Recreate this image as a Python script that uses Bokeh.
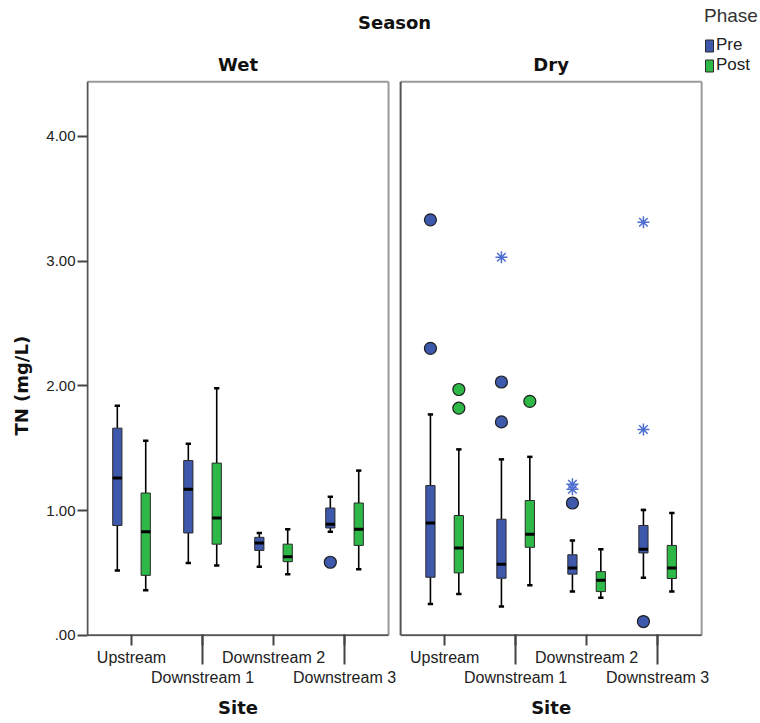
from bokeh.plotting import figure
from bokeh.models import (Range1d, FixedTicker, ColumnDataSource, Legend, LegendItem, LinearAxis, Label)
from bokeh.embed import file_html
from bokeh.resources import INLINE

# ---------------- data ----------------
sites = ["Upstream", "Downstream 1", "Downstream 2", "Downstream 3"]
seasons = ["Wet", "Dry"]
phases = ["Pre", "Post"]

# Wet season, Pre
wet_pre_low = [0.52, 0.58, 0.55, 0.83]
wet_pre_q1 = [0.88, 0.82, 0.68, 0.86]
wet_pre_med = [1.26, 1.17, 0.74, 0.89]
wet_pre_q3 = [1.66, 1.40, 0.785, 1.02]
wet_pre_high = [1.84, 1.535, 0.82, 1.11]
# Wet season, Post
wet_post_low = [0.36, 0.56, 0.49, 0.53]
wet_post_q1 = [0.48, 0.73, 0.59, 0.72]
wet_post_med = [0.83, 0.94, 0.63, 0.85]
wet_post_q3 = [1.14, 1.38, 0.73, 1.06]
wet_post_high = [1.56, 1.98, 0.85, 1.32]
# Dry season, Pre
dry_pre_low = [0.25, 0.23, 0.35, 0.46]
dry_pre_q1 = [0.465, 0.457, 0.49, 0.66]
dry_pre_med = [0.90, 0.57, 0.54, 0.69]
dry_pre_q3 = [1.20, 0.93, 0.645, 0.88]
dry_pre_high = [1.77, 1.41, 0.76, 1.005]
# Dry season, Post
dry_post_low = [0.33, 0.40, 0.30, 0.35]
dry_post_q1 = [0.50, 0.705, 0.35, 0.455]
dry_post_med = [0.70, 0.81, 0.44, 0.54]
dry_post_q3 = [0.96, 1.08, 0.51, 0.72]
dry_post_high = [1.49, 1.43, 0.69, 0.98]

# outliers (circles)
outlier_season = ["Wet", "Dry", "Dry", "Dry", "Dry", "Dry", "Dry", "Dry", "Dry", "Dry"]
outlier_site = ["Downstream 3", "Upstream", "Upstream", "Downstream 1", "Downstream 1",
                "Downstream 2", "Downstream 3", "Upstream", "Upstream", "Downstream 1"]
outlier_phase = ["Pre", "Pre", "Pre", "Pre", "Pre", "Pre", "Pre", "Post", "Post", "Post"]
outlier_value = [0.585, 3.33, 2.30, 2.03, 1.71, 1.06, 0.11, 1.97, 1.82, 1.875]

# extreme values (stars)
extreme_season = ["Dry", "Dry", "Dry", "Dry", "Dry"]
extreme_site = ["Downstream 1", "Downstream 2", "Downstream 2", "Downstream 3", "Downstream 3"]
extreme_phase = ["Pre", "Pre", "Pre", "Pre", "Pre"]
extreme_value = [3.03, 1.21, 1.17, 3.31, 1.65]

y_ticks = [0, 1, 2, 3, 4]
y_tick_labels = [".00", "1.00", "2.00", "3.00", "4.00"]
y_title = "TN (mg/L)"
x_title = "Site"
panel_title = "Season"
legend_title = "Phase"

# ---------------- layout constants ----------------
CAT_PAD = 0.62
GAP = 0.17
SEASON_OFF = {"Wet": 0.0, "Dry": 3 + 2 * CAT_PAD + GAP}
DODGE = {"Pre": -0.2, "Post": 0.2}
BOX_W = 0.13
CAP_W = 0.075
Y_TOP = 4.437
KX = 71.0      # px per category unit
KY = 124.75    # px per mg/L
FRAME_W = 674
FRAME_H = 636
COLORS = {"Pre": "#3E58AC", "Post": "#2EB848"}
STAR_COLOR = "#4F6FD0"
BOLD = "DejaVu Sans"
REG = "Liberation Sans"

stats = {
    ("Wet", "Pre"): (wet_pre_low, wet_pre_q1, wet_pre_med, wet_pre_q3, wet_pre_high),
    ("Wet", "Post"): (wet_post_low, wet_post_q1, wet_post_med, wet_post_q3, wet_post_high),
    ("Dry", "Pre"): (dry_pre_low, dry_pre_q1, dry_pre_med, dry_pre_q3, dry_pre_high),
    ("Dry", "Post"): (dry_post_low, dry_post_q1, dry_post_med, dry_post_q3, dry_post_high),
}

x_start = -CAT_PAD - 1.0 / KX
x_end = x_start + FRAME_W / KX
y_start = -0.01
y_end = y_start + FRAME_H / KY

p = figure(width=760, height=723, output_backend="svg", toolbar_location=None,
           x_range=Range1d(x_start, x_end), y_range=Range1d(y_start, y_end),
           min_border_left=86, min_border_right=0, min_border_top=0, min_border_bottom=87)
p.outline_line_color = None
p.xgrid.visible = False
p.ygrid.visible = False
p.background_fill_color = "white"
p.border_fill_color = "white"

# panel borders
panels = []
for s in seasons:
    L = SEASON_OFF[s] - CAT_PAD
    R = SEASON_OFF[s] + 3 + CAT_PAD
    panels.append((L, R))
light = dict(x0=[], y0=[], x1=[], y1=[])
dark = dict(x0=[], y0=[], x1=[], y1=[])
for L, R in panels:
    light["x0"] += [L, R]; light["y0"] += [Y_TOP, 0]; light["x1"] += [R, R]; light["y1"] += [Y_TOP, Y_TOP]
    dark["x0"] += [L, L]; dark["y0"] += [0, 0]; dark["x1"] += [L, R]; dark["y1"] += [Y_TOP, 0]
p.segment(source=ColumnDataSource(light), x0="x0", y0="y0", x1="x1", y1="y1",
          line_color="#9a9a9a", line_width=2)
p.segment(source=ColumnDataSource(dark), x0="x0", y0="y0", x1="x1", y1="y1",
          line_color="#555555", line_width=2)

box_renderers = {}
for ph in phases:
    d = dict(x=[], low=[], q1=[], med=[], q3=[], high=[])
    for s in seasons:
        low, q1, med, q3, high = stats[(s, ph)]
        for i in range(len(sites)):
            d["x"].append(i + SEASON_OFF[s] + DODGE[ph])
            d["low"].append(low[i]); d["q1"].append(q1[i]); d["med"].append(med[i])
            d["q3"].append(q3[i]); d["high"].append(high[i])
    d["xl"] = [x - BOX_W / 2 for x in d["x"]]
    d["xr"] = [x + BOX_W / 2 for x in d["x"]]
    d["cl"] = [x - CAP_W / 2 for x in d["x"]]
    d["cr"] = [x + CAP_W / 2 for x in d["x"]]
    src = ColumnDataSource(d)
    p.segment(x0="x", y0="q3", x1="x", y1="high", source=src, line_color="black", line_width=1.6)
    p.segment(x0="x", y0="low", x1="x", y1="q1", source=src, line_color="black", line_width=1.6)
    p.segment(x0="cl", y0="high", x1="cr", y1="high", source=src, line_color="black", line_width=2.5)
    p.segment(x0="cl", y0="low", x1="cr", y1="low", source=src, line_color="black", line_width=2.5)
    r = p.vbar(x="x", width=BOX_W, bottom="q1", top="q3", source=src,
               fill_color=COLORS[ph], line_color="#2a2a2a", line_width=1)
    p.segment(x0="xl", y0="med", x1="xr", y1="med", source=src, line_color="black", line_width=3)
    box_renderers[ph] = r

# outliers
ox = [sites.index(st) + SEASON_OFF[se] + DODGE[ph]
      for se, st, ph in zip(outlier_season, outlier_site, outlier_phase)]
oc = [COLORS[ph] for ph in outlier_phase]
p.scatter(x=ox, y=outlier_value, marker="circle", size=12, fill_color=oc,
          line_color="#1e1e1e", line_width=1.2)

ex = [sites.index(st) + SEASON_OFF[se] + DODGE[ph]
      for se, st, ph in zip(extreme_season, extreme_site, extreme_phase)]
p.scatter(x=ex, y=extreme_value, marker="asterisk", size=12, line_color=STAR_COLOR,
          line_width=1.5)

# ---------------- axes ----------------
xt = []
xlab = {}
minor = []
for s in seasons:
    for i, name in enumerate(sites):
        v = i + SEASON_OFF[s]
        xt.append(v)
        xlab[v] = name if i % 2 == 0 else "\n" + name
        if i % 2 == 1:
            minor.append(v)
xa = p.xaxis[0]
xa.ticker = FixedTicker(ticks=xt, minor_ticks=minor)
xa.major_label_overrides = xlab
xa.axis_line_color = None
xa.major_tick_out = 9
xa.major_tick_in = 2
xa.minor_tick_out = 28
xa.minor_tick_in = 2
xa.major_tick_line_color = "#444444"
xa.minor_tick_line_color = "#444444"
xa.major_tick_line_width = 2
xa.minor_tick_line_width = 2
xa.major_label_text_font = REG
xa.major_label_text_font_size = "16px"
xa.major_label_text_color = "#222222"
xa.major_label_text_line_height = 1.2
xa.major_label_standoff = -16

centers = [(L + R) / 2 for L, R in panels]
gap_mid = (panels[0][1] + panels[1][0]) / 2


def text_axis(ticks, labels, standoff, orientation="horizontal"):
    ax = LinearAxis(ticker=FixedTicker(ticks=ticks, minor_ticks=[]),
                    major_label_overrides=dict(zip(ticks, labels)))
    ax.axis_line_color = None
    ax.major_tick_out = 0
    ax.major_tick_in = 0
    ax.minor_tick_out = 0
    ax.minor_tick_in = 0
    ax.major_label_text_font = BOLD
    ax.major_label_text_font_style = "bold"
    ax.major_label_text_font_size = "18px"
    ax.major_label_text_color = "#111111"
    ax.major_label_standoff = standoff
    ax.major_label_orientation = orientation
    return ax


# "Site" under each panel
p.add_layout(text_axis(centers, [x_title, x_title], 8), "below")

ya = p.yaxis[0]
ya.ticker = FixedTicker(ticks=y_ticks, minor_ticks=[])
ya.major_label_overrides = dict(zip(y_ticks, y_tick_labels))
ya.axis_line_color = None
ya.major_tick_out = 9
ya.major_tick_in = 1
ya.major_tick_line_color = "#444444"
ya.major_tick_line_width = 2
ya.major_label_text_font = REG
ya.major_label_text_font_size = "15px"
ya.major_label_text_color = "#222222"
ya.major_label_standoff = 2
# y title centred on 2.00 as in the reference
p.add_layout(text_axis([2], [y_title], 11, "vertical"), "left")


def header(x, y_screen, text):
    return Label(x=x, y=y_screen, x_units="data", y_units="screen", text=text,
                 text_align="center", text_baseline="middle", text_font=BOLD,
                 text_font_style="bold", text_font_size="18px", text_color="#111111")


p.add_layout(header(gap_mid, FRAME_H - 22, panel_title))
for s, c in zip(seasons, centers):
    p.add_layout(header(c, FRAME_H - 64, s))

legend = Legend(items=[LegendItem(label=ph, renderers=[box_renderers[ph]]) for ph in phases],
                title=legend_title, location=(618, 561))
legend.title_text_font = REG
legend.title_text_font_size = "19px"
legend.title_text_font_style = "normal"
legend.title_text_color = "#333333"
legend.title_standoff = 8
legend.label_text_font = REG
legend.label_text_font_size = "17px"
legend.label_text_color = "#222222"
legend.glyph_width = 10
legend.glyph_height = 15
legend.label_height = 15
legend.label_standoff = 2
legend.spacing = 0
legend.padding = 0
legend.margin = 0
legend.border_line_color = None
legend.background_fill_alpha = 0
p.add_layout(legend, "center")

open("out.html", "w").write(file_html(p, INLINE))
